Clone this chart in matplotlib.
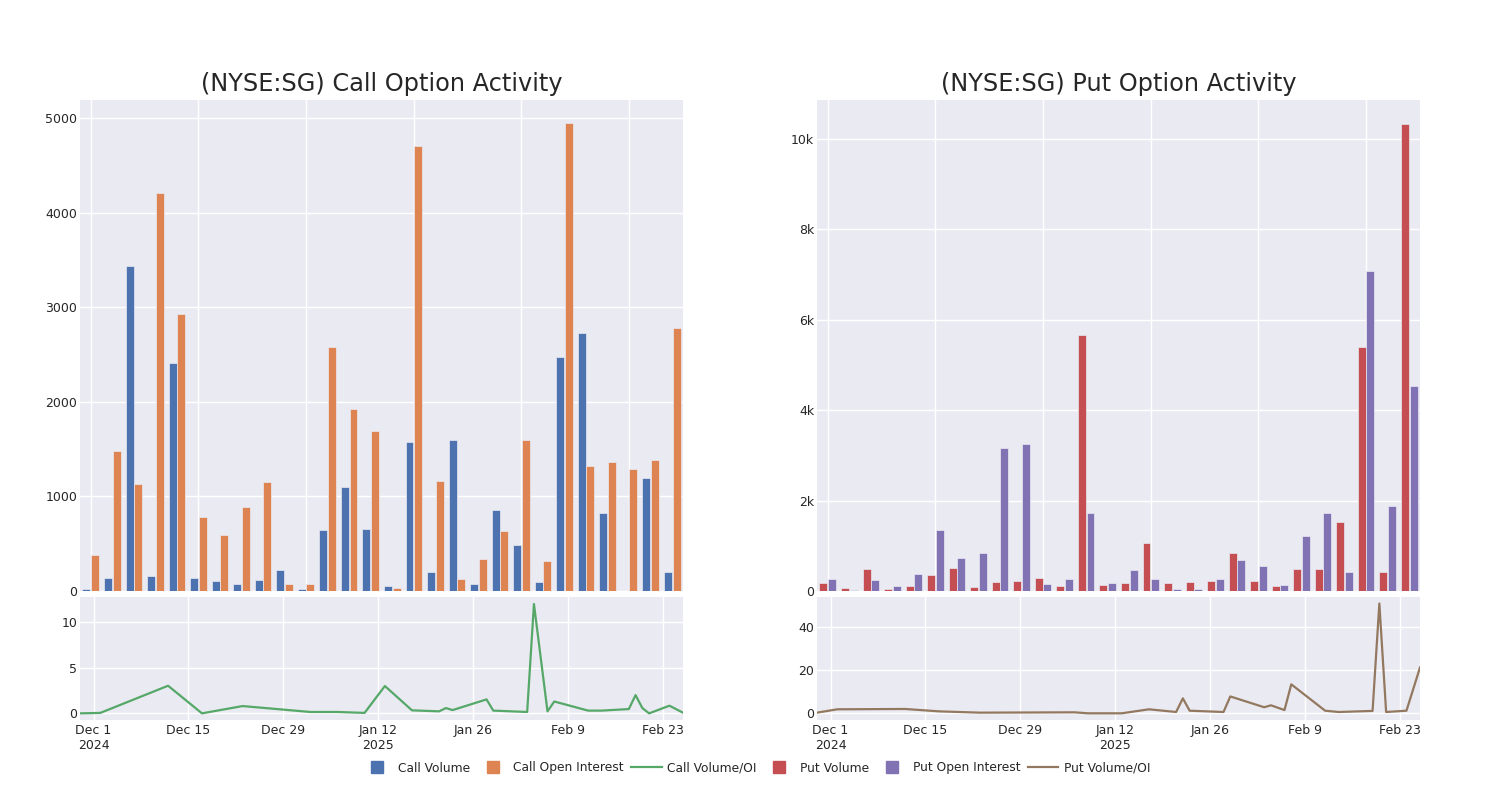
import numpy as np
import pandas as pd
import matplotlib
matplotlib.use('Agg')
import matplotlib.pyplot as plt
from matplotlib.lines import Line2D

# volumen e interes abierto por sesion (barras, eje categorico)
call_volume = [21, 141, 3438, 163, 2410, 138, 106, 74, 113, 226, 25, 640, 1095, 654,
               53, 1572, 198, 1597, 78, 852, 481, 92, 2477, 2724, 820, 0, 1191, 198]
call_oi = [382, 1484, 1131, 4212, 2933, 777, 587, 890, 1152, 74, 78, 2576, 1922, 1686,
           32, 4700, 1159, 127, 339, 636, 1594, 322, 4943, 1322, 1360, 1286, 1385, 2777]
put_volume = [170, 59, 494, 52, 111, 347, 517, 89, 199, 214, 295, 111, 5668, 125,
              170, 1055, 170, 199, 229, 849, 221, 103, 480, 487, 1535, 5388, 421, 10325]
put_oi = [258, 30, 236, 103, 384, 1351, 731, 849, 3174, 3255, 155, 266, 1720, 185,
          458, 266, 52, 44, 266, 679, 553, 125, 1218, 1734, 421, 7085, 1874, 4531]

# ratio volumen / OI (eje de fechas)
call_ratio_dates = ['2024-11-29', '2024-12-02', '2024-12-12', '2024-12-17', '2024-12-23',
                    '2025-01-02', '2025-01-06', '2025-01-10', '2025-01-13', '2025-01-17',
                    '2025-01-21', '2025-01-22', '2025-01-23', '2025-01-28', '2025-01-29',
                    '2025-02-03', '2025-02-04', '2025-02-06', '2025-02-07', '2025-02-12',
                    '2025-02-14', '2025-02-18', '2025-02-19', '2025-02-20', '2025-02-21',
                    '2025-02-24', '2025-02-26']
call_ratio = [0.0, 0.05, 3.03, 0.0, 0.8, 0.15, 0.15, 0.05, 3.0, 0.33, 0.22, 0.58, 0.36,
              1.53, 0.3, 0.15, 12.0, 0.22, 1.3, 0.3, 0.3, 0.47, 2.0, 0.58, 0.0, 0.84, 0.07]
put_ratio_dates = ['2024-11-29', '2024-12-02', '2024-12-12', '2024-12-17', '2024-12-23',
                   '2025-01-06', '2025-01-08', '2025-01-13', '2025-01-17', '2025-01-21',
                   '2025-01-22', '2025-01-23', '2025-01-28', '2025-01-29', '2025-02-03',
                   '2025-02-04', '2025-02-06', '2025-02-07', '2025-02-12', '2025-02-14',
                   '2025-02-19', '2025-02-20', '2025-02-21', '2025-02-24', '2025-02-26']
put_ratio = [0.3, 1.85, 2.0, 0.9, 0.3, 0.45, 0.0, 0.0, 1.85, 0.6, 6.9, 1.2, 0.6, 7.8,
             2.8, 3.7, 1.5, 13.4, 1.2, 0.6, 1.1, 50.8, 0.6, 1.2, 21.2]

date_ticks = ['2024-12-01', '2024-12-15', '2024-12-29', '2025-01-12', '2025-01-26',
              '2025-02-09', '2025-02-23']
date_labels = ['Dec 1\n2024', 'Dec 15', 'Dec 29', 'Jan 12\n2025', 'Jan 26', 'Feb 9', 'Feb 23']

BG = '#EAEAF2'
TXT = '#262626'

plt.rcParams['font.family'] = ['DejaVu Sans']
fig = plt.figure(figsize=(15, 8), dpi=100)


def style(ax):
    ax.set_facecolor(BG)
    for s in ax.spines.values():
        s.set_visible(False)
    ax.grid(True, color='white', lw=1)
    ax.set_axisbelow(True)
    ax.tick_params(length=0, labelsize=9, colors=TXT, pad=2)


def panel(x0, title, vol, oi, c_vol, c_oi, ymax, yticks, ylabels,
          dates, ratio, c_ratio, rlim, rticks):
    ax = fig.add_axes([x0 / 1500, 209 / 800, 603 / 1500, 491 / 800])
    style(ax)
    x = np.arange(len(vol))
    ax.bar(x - 0.2, vol, 0.37, color=c_vol, edgecolor=BG, lw=0.5)
    ax.bar(x + 0.2, oi, 0.37, color=c_oi, edgecolor=BG, lw=0.5)
    ax.set_xlim(-0.5, len(vol) - 0.5)
    ax.set_xticks(x[::5])
    ax.set_xticklabels([])
    ax.set_ylim(0, ymax)
    ax.set_yticks(yticks)
    ax.set_yticklabels(ylabels)
    fig.text((x0 + 301.5) / 1500, 1 - 84 / 800, title, ha='center', va='center',
             fontsize=17.3, color=TXT)

    bx = fig.add_axes([x0 / 1500, 80 / 800, 603 / 1500, 123 / 800])
    style(bx)
    d = pd.to_datetime(dates)
    bx.plot(d, ratio, color=c_ratio, lw=1.6)
    bx.set_xlim(d.min(), d.max())
    bx.set_xticks(pd.to_datetime(date_ticks))
    bx.set_xticklabels(date_labels)
    bx.set_ylim(*rlim)
    bx.set_yticks(rticks)
    bx.tick_params(axis='x', pad=3)


panel(80, '(NYSE:SG) Call Option Activity', call_volume, call_oi, '#4C72B0', '#DD8452',
      5190, [0, 1000, 2000, 3000, 4000, 5000], ['0', '1000', '2000', '3000', '4000', '5000'],
      call_ratio_dates, call_ratio, '#55A868', (-0.73, 12.77), [0, 5, 10])
panel(817, '(NYSE:SG) Put Option Activity', put_volume, put_oi, '#C44E52', '#8172B3',
      10863, [0, 2000, 4000, 6000, 8000, 10000], ['0', '2k', '4k', '6k', '8k', '10k'],
      put_ratio_dates, put_ratio, '#937860', (-3.1, 53.8), [0, 20, 40])

handles = [
    Line2D([], [], marker='s', ls='none', color='#4C72B0', markersize=9),
    Line2D([], [], marker='s', ls='none', color='#DD8452', markersize=9),
    Line2D([], [], color='#55A868', lw=1.6),
    Line2D([], [], marker='s', ls='none', color='#C44E52', markersize=9),
    Line2D([], [], marker='s', ls='none', color='#8172B3', markersize=9),
    Line2D([], [], color='#937860', lw=1.6),
]
labels = ['Call Volume', 'Call Open Interest', 'Call Volume/OI',
          'Put Volume', 'Put Open Interest', 'Put Volume/OI']
fig.legend(handles, labels, loc='center', bbox_to_anchor=(0.504, 0.04), ncol=6,
           frameon=False, fontsize=8.8, handlelength=2.5, handletextpad=0.45,
           columnspacing=0.6, labelcolor=TXT)

fig.savefig('out.png', dpi=100)
